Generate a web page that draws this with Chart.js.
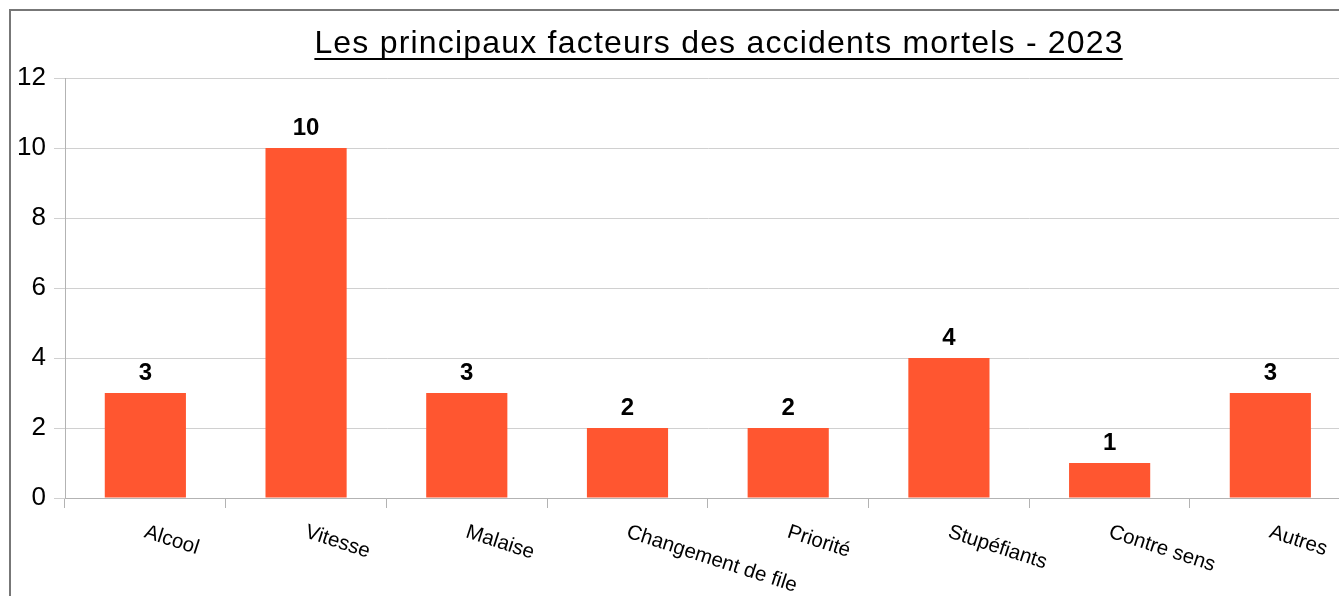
<!DOCTYPE html>
<html>
<head>
<meta charset="utf-8">
<script src="https://cdn.jsdelivr.net/npm/chart.js@4/dist/chart.umd.min.js"></script>
<style>
html,body{margin:0;padding:0;background:#fff;overflow:hidden;width:1339px;height:596px;}
#c{display:block;}
</style>
</head>
<body>
<canvas id="c" width="1360" height="596"></canvas>
<script>
const chartTitle = "Les principaux facteurs des accidents mortels - 2023";
const categories = ["Alcool", "Vitesse", "Malaise", "Changement de file", "Priorité", "Stupéfiants", "Contre sens", "Autres"];
const values = [3, 10, 3, 2, 2, 4, 1, 3];
const yTicks = [0, 2, 4, 6, 8, 10, 12];

const FONT = '"Liberation Sans", Arial, sans-serif';

const framePlugin = {
  id: 'frame',
  beforeDraw(chart) {
    const ctx = chart.ctx;
    ctx.save();
    ctx.fillStyle = '#fff';
    ctx.fillRect(0, 0, chart.width, chart.height);
    ctx.strokeStyle = '#777';
    ctx.lineWidth = 2;
    ctx.beginPath();
    ctx.moveTo(10, chart.height + 5);
    ctx.lineTo(10, 10);
    ctx.lineTo(chart.width + 5, 10);
    ctx.stroke();
    ctx.restore();
  }
};

const titlePlugin = {
  id: 'ulTitle',
  afterDraw(chart) {
    const ctx = chart.ctx;
    ctx.save();
    ctx.font = '32px ' + FONT;
    ctx.letterSpacing = '1.2px';
    ctx.fillStyle = '#000';
    ctx.textBaseline = 'alphabetic';
    ctx.textAlign = 'left';
    const w = ctx.measureText(chartTitle).width - 1.2;
    const cx = 718.5;
    const x0 = cx - w / 2;
    ctx.fillText(chartTitle, x0, 53);
    ctx.fillRect(x0, 58, w, 2);
    ctx.restore();
  }
};

const labelsPlugin = {
  id: 'xlabels',
  afterDraw(chart) {
    const ctx = chart.ctx;
    const xs = chart.scales.x;
    const meta = chart.getDatasetMeta(0);
    ctx.save();
    ctx.font = '20.5px ' + FONT;
    ctx.fillStyle = '#000';
    ctx.textAlign = 'left';
    ctx.textBaseline = 'alphabetic';
    categories.forEach((c, i) => {
      const x = xs.getPixelForValue(i);
      ctx.save();
      ctx.translate(x - 2, 537);
      ctx.rotate(18 * Math.PI / 180);
      ctx.fillText(c, 0, 0);
      ctx.restore();
    });
    ctx.font = 'bold 24px ' + FONT;
    ctx.textAlign = 'center';
    meta.data.forEach((bar, i) => {
      ctx.fillText(String(values[i]), bar.x, bar.y - 13);
    });
    ctx.restore();
  }
};

new Chart(document.getElementById('c'), {
  type: 'bar',
  data: {
    labels: categories,
    datasets: [{
      data: values,
      backgroundColor: '#ff5630',
      borderWidth: 0,
      categoryPercentage: 1,
      barPercentage: 0.505
    }]
  },
  options: {
    responsive: false,
    animation: false,
    events: [],
    layout: { padding: { left: 0, right: 9.3, top: 78, bottom: 0 } },
    plugins: { legend: { display: false }, title: { display: false }, tooltip: { enabled: false } },
    scales: {
      x: {
        offset: true,
        grid: { display: true, drawOnChartArea: false, drawTicks: true, tickLength: 10, color: '#b3b3b3', offset: true },
        border: { display: true, color: '#b3b3b3', width: 1 },
        ticks: { display: false },
        afterFit(s) { s.height = 98; }
      },
      y: {
        min: 0, max: 12,
        afterBuildTicks(s) { s.ticks = yTicks.map(v => ({ value: v })); },
        grid: { color: '#d0d0d0', drawTicks: true, tickLength: 11 },
        border: { display: true, color: '#b3b3b3', width: 1 },
        ticks: { font: { family: FONT, size: 26 }, color: '#000', padding: 8 },
        afterFit(s) { s.width = 65; }
      }
    }
  },
  plugins: [framePlugin, titlePlugin, labelsPlugin]
});
</script>
</body>
</html>
